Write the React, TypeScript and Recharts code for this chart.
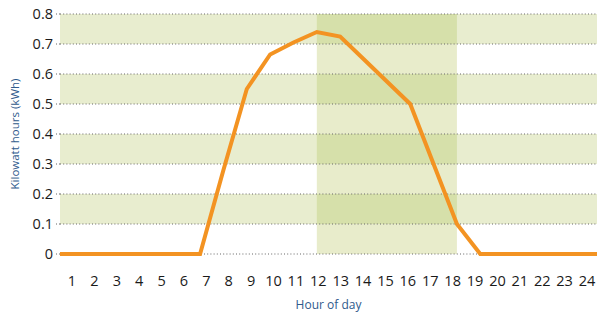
import { LineChart, Line, XAxis, YAxis, ReferenceArea, ReferenceLine } from "recharts";

const hours = [1, 2, 3, 4, 5, 6, 7, 8, 9, 10, 11, 12, 13, 14, 15, 16, 17, 18, 19, 20, 21, 22, 23, 24];
const kwh = [0, 0, 0, 0, 0, 0, 0, 0.28, 0.55, 0.665, 0.705, 0.74, 0.725, 0.65, 0.575, 0.5, 0.3, 0.1, 0, 0, 0, 0, 0, 0];
const yTicks = [0, 0.1, 0.2, 0.3, 0.4, 0.5, 0.6, 0.7, 0.8];
const bands = [
  [0.1, 0.2],
  [0.3, 0.4],
  [0.5, 0.6],
  [0.7, 0.8],
];
const peakHours = [12, 18];

const data = hours.map((h, i) => ({ hour: h, kwh: kwh[i] }));

const tickFont = { fontFamily: "'Open Sans', sans-serif", fontSize: 14.5, fill: "#1a1a1a" };
const titleColor = "#2f5a8c";

const YTitle = ({ viewBox }: any) => {
  const cx = 14;
  const cy = viewBox.y + viewBox.height / 2;
  return (
    <text
      x={cx}
      y={cy}
      transform={`rotate(-90 ${cx} ${cy})`}
      textAnchor="middle"
      dominantBaseline="central"
      style={{ fontFamily: "'Open Sans', sans-serif", fontSize: 11.5, fill: titleColor }}
    >
      Kilowatt hours (kWh)
    </text>
  );
};

export default function App() {
  return (
    <div style={{ width: 606, height: 313 }}>
      <style>{`body{margin:0}`}</style>
      <LineChart width={606} height={313} data={data} margin={{ top: 14, right: 9, left: 0, bottom: 0 }}>
        <XAxis xAxisId="pts" dataKey="hour" type="number" domain={[1, 24]} hide />
        <XAxis
          xAxisId="lbl"
          dataKey="hour"
          type="number"
          domain={[1, 24]}
          ticks={hours}
          interval={0}
          padding={{ left: 12, right: 10 }}
          height={59}
          axisLine={false}
          tickLine={false}
          tickSize={0}
          tickMargin={22}
          tick={tickFont}
          label={{
            value: "Hour of day",
            position: "insideBottom",
            offset: 4,
            style: { fontFamily: "'Open Sans', sans-serif", fontSize: 12, fill: titleColor },
          }}
        />
        <YAxis
          domain={[0, 0.8]}
          ticks={yTicks}
          width={60}
          axisLine={false}
          tickSize={4}
          tickMargin={3}
          tickLine={{ stroke: "#666", strokeDasharray: "1 2" }}
          tick={tickFont}
          tickFormatter={(v: number) => (v === 0 ? "0" : v.toFixed(1))}
          label={<YTitle />}
        />
        {bands.map(([a, b]) => (
          <ReferenceArea key={`b${a}`} xAxisId="pts" y1={a} y2={b} fill="#e8edcf" fillOpacity={1} stroke="none" />
        ))}
        <ReferenceArea xAxisId="pts" x1={peakHours[0]} x2={peakHours[1]} y1={0} y2={0.8} fill="#e8eccb" fillOpacity={1} stroke="none" />
        {bands.map(([a, b]) => (
          <ReferenceArea
            key={`p${a}`}
            xAxisId="pts"
            x1={peakHours[0]}
            x2={peakHours[1]}
            y1={a}
            y2={b}
            fill="#d6e0aa"
            fillOpacity={1}
            stroke="none"
          />
        ))}
        {yTicks.map((t) => (
          <ReferenceLine key={`g${t}`} xAxisId="pts" y={t} stroke="#666" strokeDasharray="1 2.2" strokeWidth={1} />
        ))}
        <Line
          xAxisId="pts"
          dataKey="kwh"
          stroke="#f39322"
          strokeWidth={4}
          dot={false}
          strokeLinejoin="miter"
          isAnimationActive={false}
        />
      </LineChart>
    </div>
  );
}
